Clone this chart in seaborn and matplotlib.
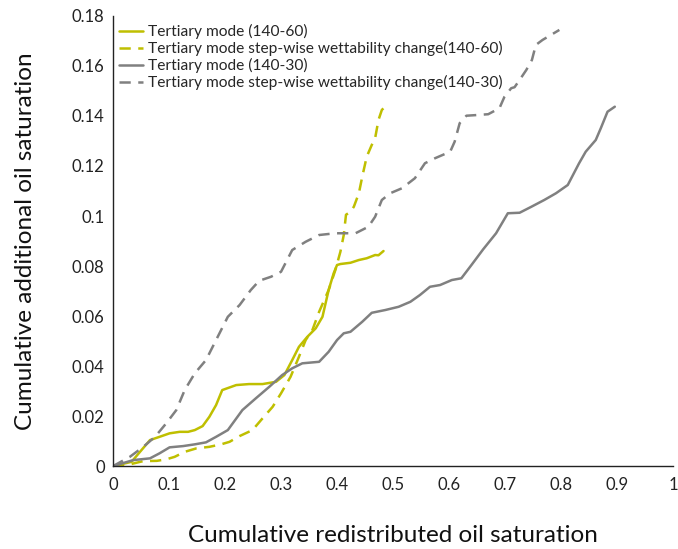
import matplotlib
matplotlib.use("Agg")
import matplotlib.pyplot as plt
import seaborn as sns
import pandas as pd

# Tertiary mode (140-60)
x_t60 = [0.0, 0.033, 0.066, 0.083, 0.101, 0.119, 0.134, 0.146, 0.160, 0.172, 0.184, 0.195,
         0.220, 0.243, 0.267, 0.291, 0.306, 0.320, 0.332, 0.347, 0.362, 0.374, 0.385, 0.394,
         0.400, 0.406, 0.424, 0.439, 0.453, 0.468, 0.474, 0.483]
y_t60 = [0.0, 0.0017, 0.0104, 0.0117, 0.0131, 0.0137, 0.0137, 0.0144, 0.0160, 0.0197, 0.0244, 0.0304,
         0.0324, 0.0328, 0.0328, 0.0337, 0.0364, 0.0424, 0.0477, 0.0517, 0.0551, 0.0597, 0.0704, 0.0771,
         0.0804, 0.0808, 0.0813, 0.0824, 0.0831, 0.0844, 0.0843, 0.0860]

# Tertiary mode step-wise wettability change (140-60)
x_s60 = [0.0, 0.030, 0.054, 0.078, 0.095, 0.110, 0.128, 0.149, 0.172, 0.193, 0.208, 0.226,
         0.249, 0.267, 0.285, 0.300, 0.317, 0.332, 0.344, 0.356, 0.368, 0.385, 0.397, 0.406,
         0.412, 0.416, 0.424, 0.430, 0.439, 0.445, 0.453, 0.462, 0.468, 0.474, 0.480, 0.487]
y_s60 = [0.0, 0.0007, 0.0020, 0.0021, 0.0027, 0.0037, 0.0057, 0.0071, 0.0077, 0.0087, 0.0097, 0.0120,
         0.0144, 0.0191, 0.0237, 0.0291, 0.0357, 0.0437, 0.0504, 0.0544, 0.0617, 0.0704, 0.0784, 0.0857,
         0.0924, 0.1005, 0.1017, 0.1037, 0.1091, 0.1157, 0.1237, 0.1284, 0.1311, 0.1384, 0.1424, 0.1440]

# Tertiary mode (140-30)
x_t30 = [0.0, 0.036, 0.066, 0.083, 0.101, 0.125, 0.146, 0.166, 0.184, 0.205, 0.231, 0.255,
         0.279, 0.302, 0.320, 0.338, 0.368, 0.385, 0.400, 0.412, 0.424, 0.445, 0.462, 0.486,
         0.510, 0.531, 0.548, 0.566, 0.584, 0.605, 0.622, 0.640, 0.661, 0.684, 0.705, 0.726,
         0.747, 0.770, 0.791, 0.812, 0.832, 0.844, 0.862, 0.871, 0.883, 0.896]
y_t30 = [0.0, 0.0024, 0.0031, 0.0051, 0.0075, 0.0080, 0.0087, 0.0095, 0.0117, 0.0144, 0.0224, 0.0271,
         0.0317, 0.0364, 0.0391, 0.0411, 0.0417, 0.0457, 0.0504, 0.0531, 0.0537, 0.0577, 0.0613, 0.0624,
         0.0637, 0.0657, 0.0684, 0.0717, 0.0724, 0.0744, 0.0751, 0.0804, 0.0867, 0.0931, 0.1011, 0.1013,
         0.1037, 0.1064, 0.1091, 0.1124, 0.1210, 0.1257, 0.1304, 0.1351, 0.1417, 0.1437]

# Tertiary mode step-wise wettability change (140-30)
x_s30 = [0.0, 0.030, 0.054, 0.075, 0.095, 0.113, 0.128, 0.146, 0.166, 0.184, 0.205, 0.226,
         0.246, 0.261, 0.282, 0.300, 0.320, 0.344, 0.368, 0.397, 0.433, 0.456, 0.468, 0.480,
         0.495, 0.516, 0.539, 0.557, 0.575, 0.602, 0.610, 0.619, 0.631, 0.652, 0.670, 0.690,
         0.699, 0.711, 0.717, 0.726, 0.738, 0.748, 0.755, 0.767, 0.782, 0.797]
y_s30 = [0.0, 0.0037, 0.0077, 0.0117, 0.0171, 0.0224, 0.0304, 0.0371, 0.0424, 0.0504, 0.0597, 0.0644,
         0.0704, 0.0741, 0.0757, 0.0777, 0.0864, 0.0897, 0.0924, 0.0931, 0.0931, 0.0957, 0.0997, 0.1064,
         0.1091, 0.1111, 0.1151, 0.1211, 0.1231, 0.1257, 0.1297, 0.1371, 0.1401, 0.1404, 0.1407, 0.1431,
         0.1477, 0.1511, 0.1515, 0.1544, 0.1584, 0.1624, 0.1684, 0.1704, 0.1724, 0.1744]

labels = [
    "Tertiary mode (140-60)",
    "Tertiary mode step-wise wettability change(140-60)",
    "Tertiary mode (140-30)",
    "Tertiary mode step-wise wettability change(140-30)",
]

x_ticks = [0, 0.1, 0.2, 0.3, 0.4, 0.5, 0.6, 0.7, 0.8, 0.9, 1.0]
x_ticklabels = ["0", "0.1", "0.2", "0.3", "0.4", "0.5", "0.6", "0.7", "0.8", "0.9", "1"]
y_ticks = [0, 0.02, 0.04, 0.06, 0.08, 0.10, 0.12, 0.14, 0.16, 0.18]
y_ticklabels = ["0", "0.02", "0.04", "0.06", "0.08", "0.1", "0.12", "0.14", "0.16", "0.18"]

sns.set_theme(style="white")
plt.rcParams["font.family"] = ["Lato", "DejaVu Sans"]

olive = "#BFBF00"
grey = "#808080"

fig = plt.figure(figsize=(6.78, 5.49), dpi=100)
ax = fig.add_axes([0.1667, 0.151, 0.826, 0.820])

series = [
    (x_t60, y_t60, olive, "-"),
    (x_s60, y_s60, olive, "--"),
    (x_t30, y_t30, grey, "-"),
    (x_s30, y_s30, grey, "--"),
]
for (xs, ys, col, ls), lab in zip(series, labels):
    df = pd.DataFrame({"x": xs, "y": ys})
    sns.lineplot(data=df, x="x", y="y", sort=False, estimator=None, ax=ax,
                 color=col, linewidth=1.8, label=lab)
    if ls == "--":
        ax.lines[-1].set_linestyle((0, (4.5, 3)))

ax.set_xlim(0, 1)
ax.set_ylim(0, 0.18)
ax.set_xticks(x_ticks)
ax.set_xticklabels(x_ticklabels)
ax.set_yticks(y_ticks)
ax.set_yticklabels(y_ticklabels)
ax.tick_params(axis="both", direction="in", length=5, width=1, colors="#222222",
               labelsize=12, labelcolor="#222222")
ax.tick_params(axis="x", pad=8)
ax.tick_params(axis="y", pad=6)
for side in ("top", "right"):
    ax.spines[side].set_visible(False)
for side in ("left", "bottom"):
    ax.spines[side].set_color("#222222")
    ax.spines[side].set_linewidth(1)

ax.set_xlabel("Cumulative redistributed oil saturation", fontsize=17.5, color="#111111", labelpad=23)
ax.set_ylabel("Cumulative additional oil saturation", fontsize=17.5, color="#111111", labelpad=26)

leg = ax.legend(loc="upper left", bbox_to_anchor=(0.0, 0.995), frameon=False, fontsize=11.2,
                handlelength=1.55, handletextpad=0.3, labelspacing=0.12, borderaxespad=0.2,
                borderpad=0.2)
for h in leg.get_lines():
    h.set_linewidth(1.8)

fig.savefig("out.png", dpi=100)
